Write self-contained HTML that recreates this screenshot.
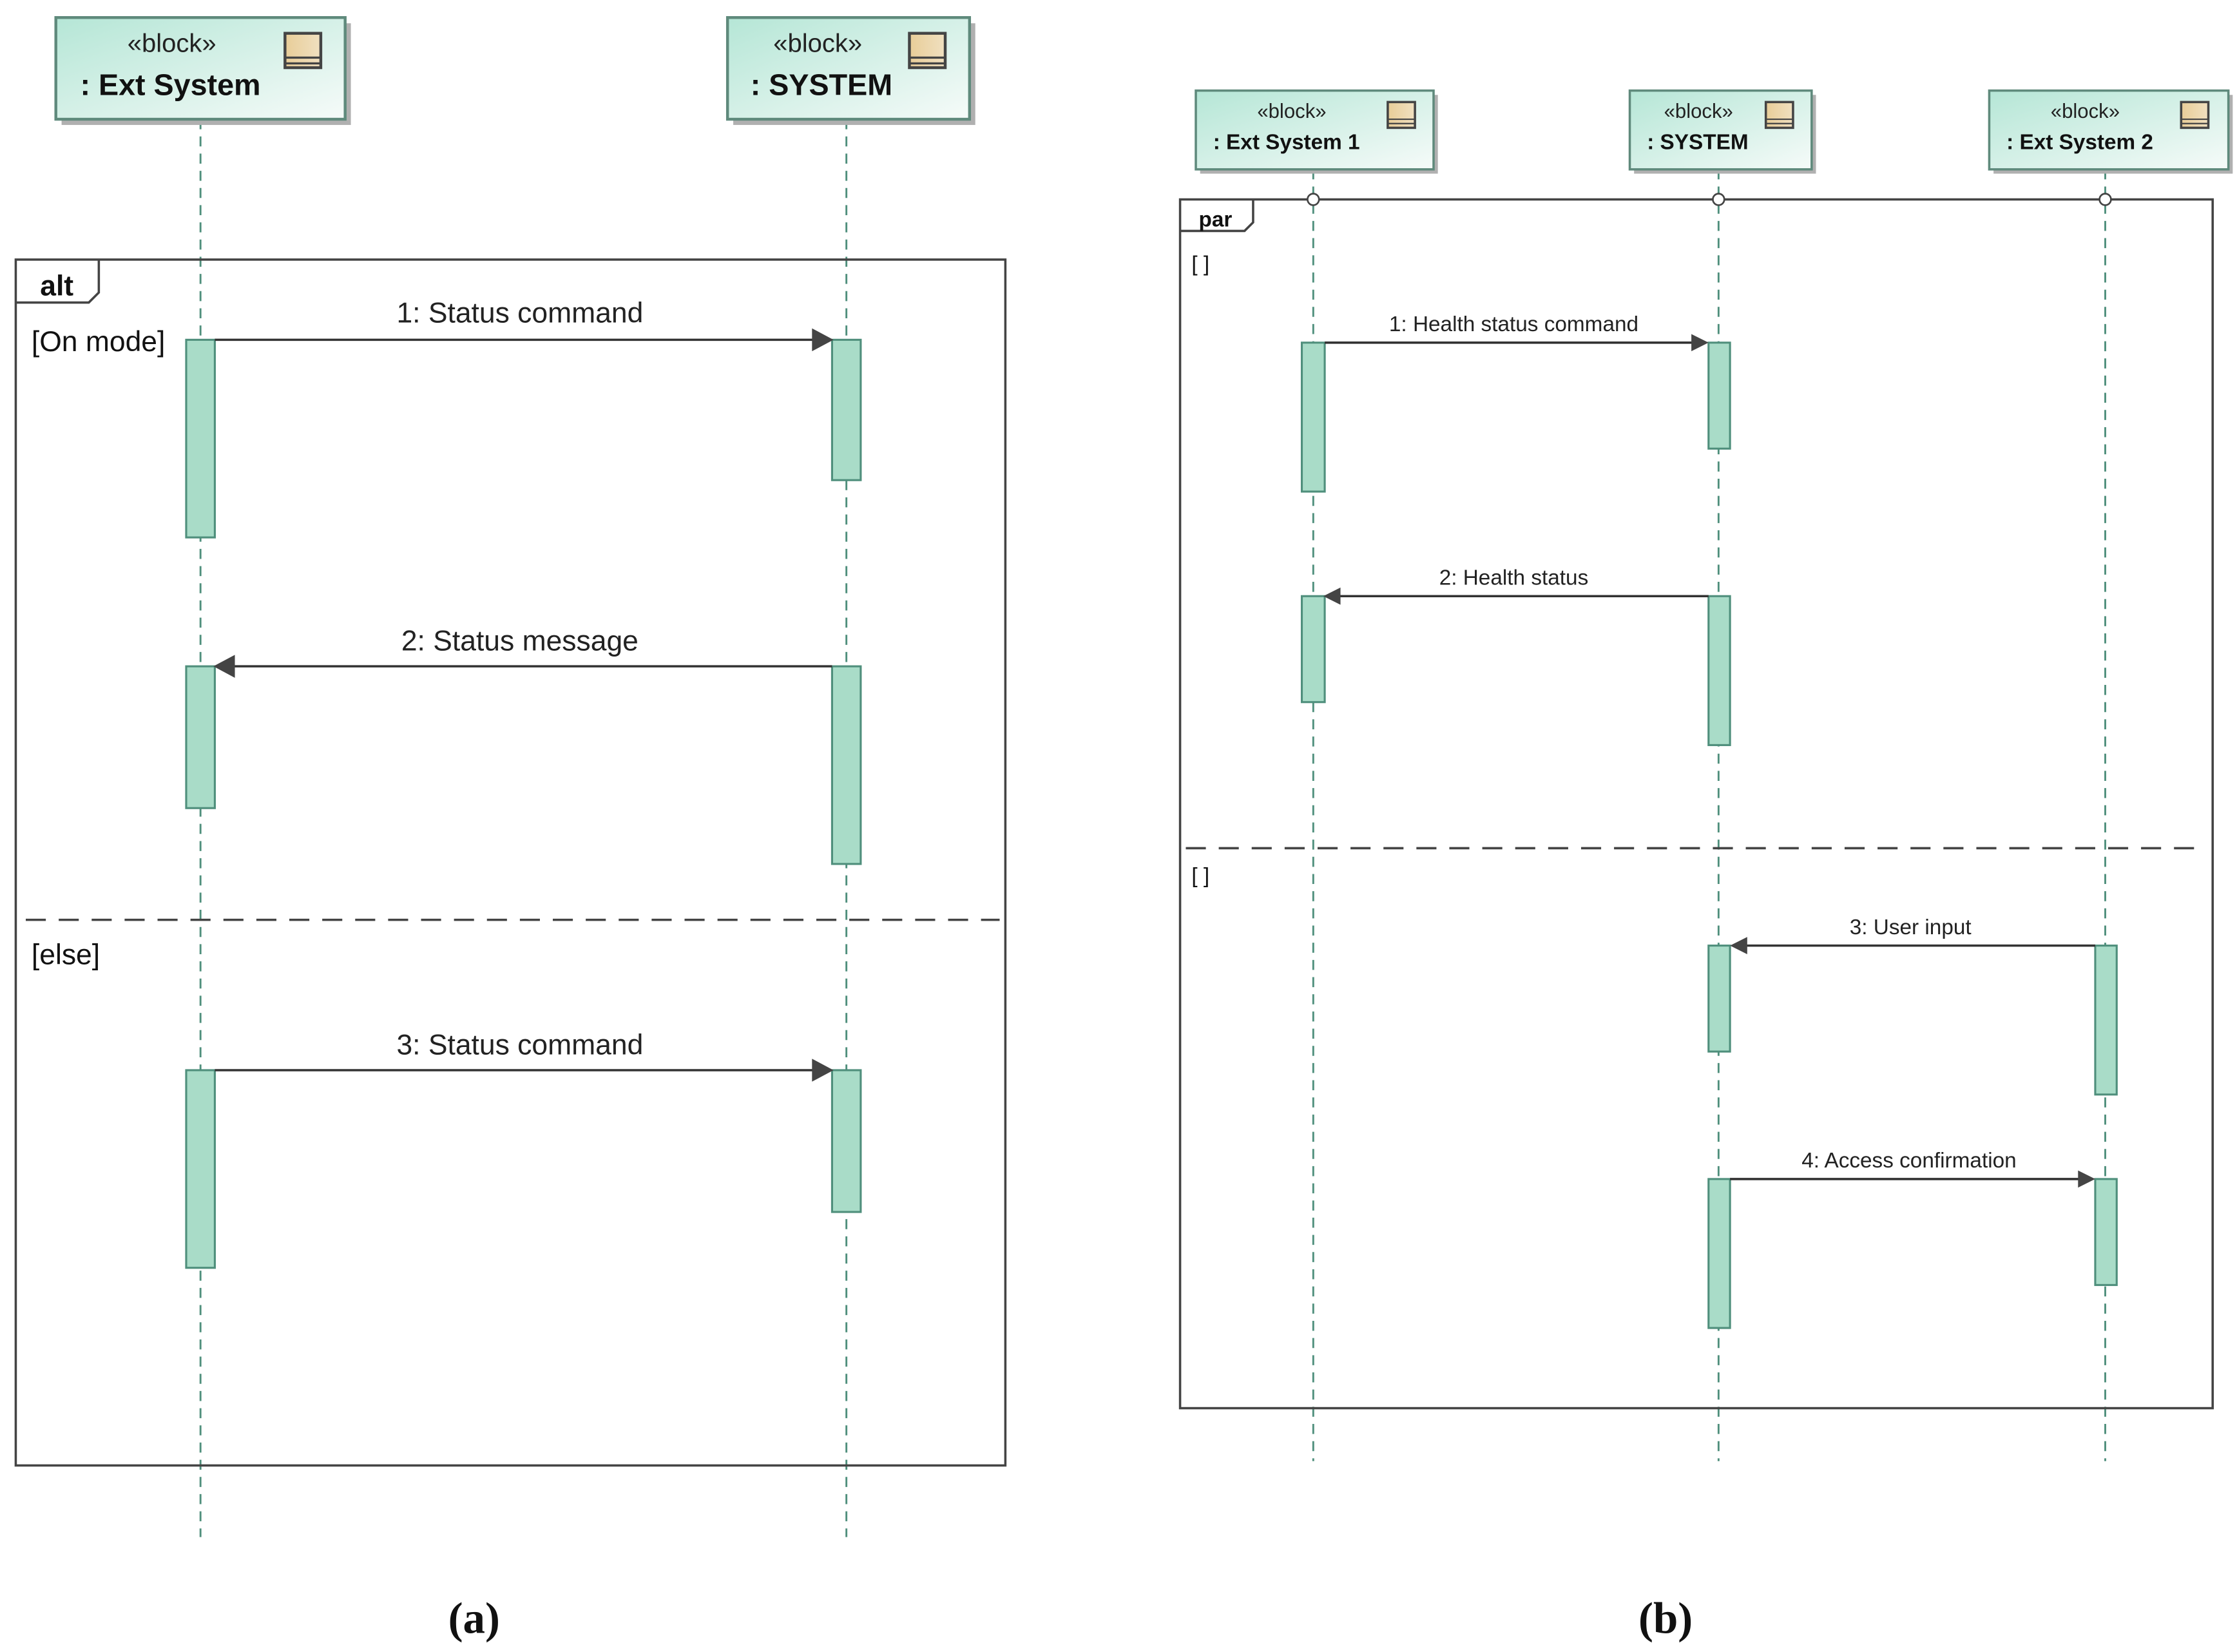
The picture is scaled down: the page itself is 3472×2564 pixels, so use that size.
<!DOCTYPE html>
<html><head><meta charset="utf-8"><style>html,body{margin:0;padding:0;background:#fff}svg{display:block}</style></head>
<body>
<svg width="3472" height="2564" viewBox="0 0 1562 1153" xmlns="http://www.w3.org/2000/svg" font-family="Liberation Sans, sans-serif">
<defs>
<linearGradient id="g" x1="0" y1="0" x2="1" y2="1"><stop offset="0" stop-color="#b5e6d6"/><stop offset="1" stop-color="#f6fbf9"/></linearGradient>
<linearGradient id="ic" x1="0" y1="0" x2="1" y2="0"><stop offset="0" stop-color="#e8cd98"/><stop offset="1" stop-color="#f0e0c0"/></linearGradient>
</defs>
<rect width="1562" height="1153" fill="#fff"/>
<g stroke="#4f8f7c" stroke-width="1.3" stroke-dasharray="7,5">
<line x1="140" y1="83" x2="140" y2="1073"/><line x1="591" y1="83" x2="591" y2="1073"/>
<line x1="917" y1="118" x2="917" y2="1020"/><line x1="1200" y1="118" x2="1200" y2="1020"/><line x1="1470" y1="118" x2="1470" y2="1020"/>
</g>
<!-- heads a -->
<g>
<rect x="43" y="16" width="202" height="71" fill="#b0b0b0"/><rect x="39" y="12" width="202" height="71" fill="url(#g)" stroke="#5f8a7c" stroke-width="2"/>
<text x="120" y="36" font-size="18" text-anchor="middle" fill="#222">«block»</text><text x="56" y="66" font-size="21" font-weight="bold" fill="#111">: Ext System</text>
<rect x="199" y="23" width="25" height="24" fill="url(#ic)" stroke="#444" stroke-width="2"/><line x1="199" y1="40" x2="224" y2="40" stroke="#444" stroke-width="1.5"/><line x1="199" y1="44" x2="224" y2="44" stroke="#444" stroke-width="1.5"/>
<rect x="512" y="16" width="169" height="71" fill="#b0b0b0"/><rect x="508" y="12" width="169" height="71" fill="url(#g)" stroke="#5f8a7c" stroke-width="2"/>
<text x="571" y="36" font-size="18" text-anchor="middle" fill="#222">«block»</text><text x="524" y="66" font-size="21" font-weight="bold" fill="#111">: SYSTEM</text>
<rect x="635" y="23" width="25" height="24" fill="url(#ic)" stroke="#444" stroke-width="2"/><line x1="635" y1="40" x2="660" y2="40" stroke="#444" stroke-width="1.5"/><line x1="635" y1="44" x2="660" y2="44" stroke="#444" stroke-width="1.5"/>
</g>
<!-- heads b -->
<g>
<rect x="838" y="66" width="166" height="55" fill="#b0b0b0"/><rect x="835" y="63" width="166" height="55" fill="url(#g)" stroke="#5f8a7c" stroke-width="1.6"/>
<text x="902" y="82" font-size="14" text-anchor="middle" fill="#222">«block»</text><text x="847" y="104" font-size="15" font-weight="bold" fill="#111">: Ext System 1</text>
<rect x="969" y="71" width="19" height="18" fill="url(#ic)" stroke="#444" stroke-width="1.6"/><line x1="969" y1="83" x2="988" y2="83" stroke="#444"/><line x1="969" y1="86" x2="988" y2="86" stroke="#444"/>
<rect x="1141" y="66" width="127" height="55" fill="#b0b0b0"/><rect x="1138" y="63" width="127" height="55" fill="url(#g)" stroke="#5f8a7c" stroke-width="1.6"/>
<text x="1186" y="82" font-size="14" text-anchor="middle" fill="#222">«block»</text><text x="1150" y="104" font-size="15" font-weight="bold" fill="#111">: SYSTEM</text>
<rect x="1233" y="71" width="19" height="18" fill="url(#ic)" stroke="#444" stroke-width="1.6"/><line x1="1233" y1="83" x2="1252" y2="83" stroke="#444"/><line x1="1233" y1="86" x2="1252" y2="86" stroke="#444"/>
<rect x="1392" y="66" width="167" height="55" fill="#b0b0b0"/><rect x="1389" y="63" width="167" height="55" fill="url(#g)" stroke="#5f8a7c" stroke-width="1.6"/>
<text x="1456" y="82" font-size="14" text-anchor="middle" fill="#222">«block»</text><text x="1401" y="104" font-size="15" font-weight="bold" fill="#111">: Ext System 2</text>
<rect x="1523" y="71" width="19" height="18" fill="url(#ic)" stroke="#444" stroke-width="1.6"/><line x1="1523" y1="83" x2="1542" y2="83" stroke="#444"/><line x1="1523" y1="86" x2="1542" y2="86" stroke="#444"/>
</g>
<!-- frame a -->
<g fill="none" stroke="#444" stroke-width="1.6">
<rect x="11" y="181" width="691" height="842"/>
<path d="M11 211 H62 L69 204 V181"/>
<line x1="18" y1="642" x2="698" y2="642" stroke-dasharray="14,9"/>
<rect x="824" y="139" width="721" height="844"/>
<path d="M824 161 H869 L875 155 V139"/>
<line x1="828" y1="592" x2="1540" y2="592" stroke-dasharray="14,9"/>
</g>
<g fill="#fff" stroke="#444" stroke-width="1.2"><circle cx="917" cy="139" r="4"/><circle cx="1200" cy="139" r="4"/><circle cx="1470" cy="139" r="4"/></g>
<g fill="#111">
<text x="28" y="206" font-size="20" font-weight="bold">alt</text>
<text x="22" y="245" font-size="20">[On mode]</text>
<text x="22" y="673" font-size="20">[else]</text>
<text x="837" y="158" font-size="15" font-weight="bold">par</text>
<text x="832" y="189" font-size="15">[ ]</text>
<text x="832" y="616" font-size="15">[ ]</text>
</g>
<!-- activations -->
<g fill="#a9dcc8" stroke="#4f8f7c" stroke-width="1.4">
<rect x="130" y="237" width="20" height="138"/><rect x="581" y="237" width="20" height="98"/>
<rect x="130" y="465" width="20" height="99"/><rect x="581" y="465" width="20" height="138"/>
<rect x="130" y="747" width="20" height="138"/><rect x="581" y="747" width="20" height="99"/>
<rect x="909" y="239" width="16" height="104"/><rect x="1193" y="239" width="15" height="74"/>
<rect x="909" y="416" width="16" height="74"/><rect x="1193" y="416" width="15" height="104"/>
<rect x="1193" y="660" width="15" height="74"/><rect x="1463" y="660" width="15" height="104"/>
<rect x="1193" y="823" width="15" height="104"/><rect x="1463" y="823" width="15" height="74"/>
</g>
<!-- messages -->
<g stroke="#333" stroke-width="1.6">
<line x1="150" y1="237" x2="575" y2="237"/><line x1="581" y1="465" x2="156" y2="465"/><line x1="150" y1="747" x2="575" y2="747"/>
<line x1="925" y1="239" x2="1187" y2="239"/><line x1="1193" y1="416" x2="931" y2="416"/>
<line x1="1463" y1="660" x2="1214" y2="660"/><line x1="1208" y1="823" x2="1457" y2="823"/>
</g>
<g fill="#444">
<path d="M567 229 L582 237 L567 245Z"/><path d="M164 457 L149 465 L164 473Z"/><path d="M567 739 L582 747 L567 755Z"/>
<path d="M1181 233 L1193 239 L1181 245Z"/><path d="M936 410 L924 416 L936 422Z"/>
<path d="M1220 654 L1208 660 L1220 666Z"/><path d="M1451 817 L1463 823 L1451 829Z"/>
</g>
<g fill="#222" text-anchor="middle">
<text x="363" y="225" font-size="20">1:  Status command</text>
<text x="363" y="454" font-size="20">2:  Status message</text>
<text x="363" y="736" font-size="20">3:  Status command</text>
<text x="1057" y="231" font-size="15">1:  Health status command</text>
<text x="1057" y="408" font-size="15">2:  Health status</text>
<text x="1334" y="652" font-size="15">3:  User input</text>
<text x="1333" y="815" font-size="15">4:  Access confirmation</text>
</g>
<g font-family="Liberation Serif, serif" font-weight="bold" font-size="31" text-anchor="middle" fill="#111">
<text x="331" y="1140">(a)</text><text x="1163" y="1140">(b)</text>
</g>
</svg>
</body></html>
